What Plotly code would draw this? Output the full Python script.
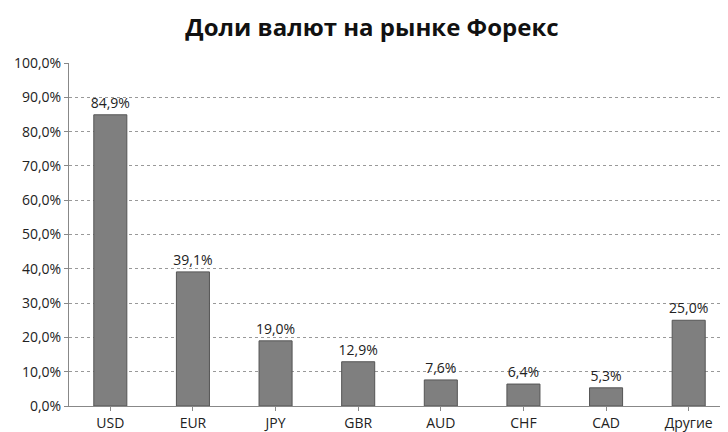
import plotly.graph_objects as go

currencies = ["USD", "EUR", "JPY", "GBR", "AUD", "CHF", "CAD", "Другие"]
shares = [84.9, 39.1, 19.0, 12.9, 7.6, 6.4, 5.3, 25.0]
tick_vals = [0, 10, 20, 30, 40, 50, 60, 70, 80, 90, 100]
tick_text = [f"{v:.1f}%".replace(".", ",") for v in tick_vals]
labels = [f"{v:.1f}%".replace(".", ",") for v in shares]

fig = go.Figure(go.Bar(
    x=currencies, y=shares,
    text=labels, textposition="outside", constraintext="none",
    textfont=dict(size=14, color="#222"),
    marker=dict(color="#7f7f7f", line=dict(color="#555", width=1)),
    cliponaxis=False,
))

fig.update_layout(
    width=728, height=432,
    margin=dict(l=55, r=6, t=55, b=34),
    paper_bgcolor="white", plot_bgcolor="white",
    font=dict(family="Open Sans", size=14, color="#222"),
    title=dict(text="<b>Доли валют на рынке Форекс</b>", x=0.5, xanchor="center",
               y=0.955, yanchor="middle", font=dict(size=24, color="#111")),
    bargap=0.6,
    showlegend=False,
)
fig.update_yaxes(range=[0, 100], tickvals=tick_vals, ticktext=tick_text,
                 showgrid=True, gridcolor="#999", griddash="dot", gridwidth=1,
                 showline=True, linecolor="#888", ticks="outside", ticklen=4,
                 tickcolor="#888", zeroline=False)
fig.update_xaxes(showline=True, linecolor="#888", ticks="outside", ticklen=4,
                 tickcolor="#888")

fig.write_html("out.html")
